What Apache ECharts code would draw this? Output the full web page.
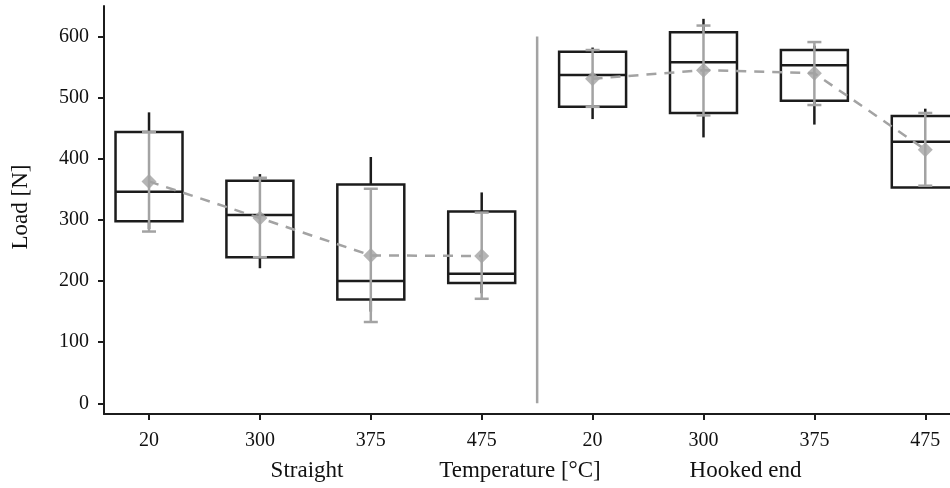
<!DOCTYPE html>
<html>
<head>
<meta charset="utf-8">
<script src="https://cdn.jsdelivr.net/npm/echarts@6/dist/echarts.min.js"></script>
<style>html,body{margin:0;padding:0;background:#fff;}#c{width:950px;height:488px;}</style>
</head>
<body>
<div id="c"></div>
<script>
// ---- data ----
const categories = ['20', '300', '375', '475', '20', '300', '375', '475'];
const groupNames = ['Straight', 'Hooked end'];
const axisTitleX = 'Temperature [°C]';
const axisTitleY = 'Load [N]';
const groupSize = 4;
const boxMin    = [285, 221, 150, 180, 465, 435, 456, 353];
const boxQ1     = [298, 239, 170, 197, 485, 475, 495, 353];
const boxMedian = [346, 308, 200, 212, 537, 558, 553, 428];
const boxQ3     = [444, 364, 358, 314, 575, 607, 578, 470];
const boxMax    = [476, 375, 403, 345, 582, 629, 585, 482];
const meanVals  = [363, 303, 242, 241, 531, 545, 540, 415];
const errLow    = [281, 239, 133, 171, 485, 471, 488, 356];
const errHigh   = [444, 369, 351, 312, 578, 618, 591, 475];
const yTicks = [0, 100, 200, 300, 400, 500, 600];

// ---- build ----
const BLACK = '#1c1c1c', GRAY = '#a3a3a3';
const FONT = 'Liberation Serif';
const idx = categories.map((_, i) => i);
const boxData = idx.map(i => [i, boxMin[i], boxQ1[i], boxMedian[i], boxQ3[i], boxMax[i]]);
const errData = idx.map(i => [i, errLow[i], errHigh[i]]);
const meanData = idx.map(i => [i, meanVals[i]]);
const groupLine = g => idx.filter(i => Math.floor(i / groupSize) === g).map(i => [i, meanVals[i]]);
const titleStyle = txt => ({ text: txt, font: '23px "' + FONT + '"', fill: '#111', align: 'center', verticalAlign: 'middle' });

const chart = echarts.init(document.getElementById('c'));
chart.setOption({
  animation: false,
  grid: { left: 104, right: 0, top: 6, bottom: 74 },
  xAxis: {
    type: 'value', min: -0.406, max: 7.223,
    splitLine: { show: false },
    axisLine: { show: true, onZero: false, lineStyle: { color: BLACK, width: 2 } },
    axisTick: { show: true, length: 6, lineStyle: { color: BLACK, width: 2 }, customValues: idx },
    axisLabel: { customValues: idx, formatter: v => categories[Math.round(v)], margin: 17,
      fontFamily: FONT, fontSize: 20, color: '#111' }
  },
  yAxis: {
    type: 'value', min: -17.5, max: 650,
    splitLine: { show: false },
    axisLine: { show: true, onZero: false, lineStyle: { color: BLACK, width: 2 } },
    axisTick: { show: true, length: 6, lineStyle: { color: BLACK, width: 2 }, customValues: yTicks },
    axisLabel: { customValues: yTicks, margin: 15, fontFamily: FONT, fontSize: 20, color: '#111' }
  },
  series: [
    {
      type: 'custom', data: boxData, z: 2, clip: true,
      renderItem: (params, api) => {
        const x = api.value(0);
        const w = api.size([0.604, 0])[0];
        const pMin = api.coord([x, api.value(1)]);
        const pQ1 = api.coord([x, api.value(2)]);
        const pMed = api.coord([x, api.value(3)]);
        const pQ3 = api.coord([x, api.value(4)]);
        const pMax = api.coord([x, api.value(5)]);
        const st = { stroke: BLACK, lineWidth: 2.5, fill: null };
        return { type: 'group', children: [
          { type: 'line', shape: { x1: pMax[0], y1: pMax[1], x2: pQ3[0], y2: pQ3[1] }, style: st },
          { type: 'line', shape: { x1: pMin[0], y1: pMin[1], x2: pQ1[0], y2: pQ1[1] }, style: st },
          { type: 'rect', shape: { x: pQ3[0] - w / 2, y: pQ3[1], width: w, height: pQ1[1] - pQ3[1] }, style: st },
          { type: 'line', shape: { x1: pMed[0] - w / 2, y1: pMed[1], x2: pMed[0] + w / 2, y2: pMed[1] }, style: st }
        ]};
      }
    },
    {
      type: 'line', data: [[groupSize - 0.5, yTicks[0]], [groupSize - 0.5, yTicks[yTicks.length - 1]]],
      symbol: 'none', lineStyle: { color: GRAY, width: 2.5 }, z: 1
    },
    { type: 'line', data: groupLine(0), symbol: 'none', z: 3, lineStyle: { color: GRAY, width: 2.5, type: [10, 8] } },
    { type: 'line', data: groupLine(1), symbol: 'none', z: 3, lineStyle: { color: GRAY, width: 2.5, type: [10, 8] } },
    {
      type: 'custom', data: errData, z: 4,
      renderItem: (params, api) => {
        const x = api.value(0);
        const lo = api.coord([x, api.value(1)]);
        const hi = api.coord([x, api.value(2)]);
        const cw = 7;
        const st = { stroke: GRAY, lineWidth: 2.5, fill: null };
        return { type: 'group', children: [
          { type: 'line', shape: { x1: lo[0], y1: lo[1], x2: hi[0], y2: hi[1] }, style: st },
          { type: 'line', shape: { x1: lo[0] - cw, y1: lo[1], x2: lo[0] + cw, y2: lo[1] }, style: st },
          { type: 'line', shape: { x1: hi[0] - cw, y1: hi[1], x2: hi[0] + cw, y2: hi[1] }, style: st }
        ]};
      }
    },
    {
      type: 'scatter', data: meanData, symbol: 'diamond', symbolSize: [15, 15], z: 5,
      itemStyle: { color: GRAY }
    }
  ],
  graphic: [
    { type: 'text', x: 21, y: 207, rotation: Math.PI / 2, style: titleStyle(axisTitleY) },
    { type: 'text', x: 307, y: 471, style: titleStyle(groupNames[0]) },
    { type: 'text', x: 520, y: 471, style: titleStyle(axisTitleX) },
    { type: 'text', x: 745.5, y: 471, style: titleStyle(groupNames[1]) }
  ]
});
</script>
</body>
</html>
